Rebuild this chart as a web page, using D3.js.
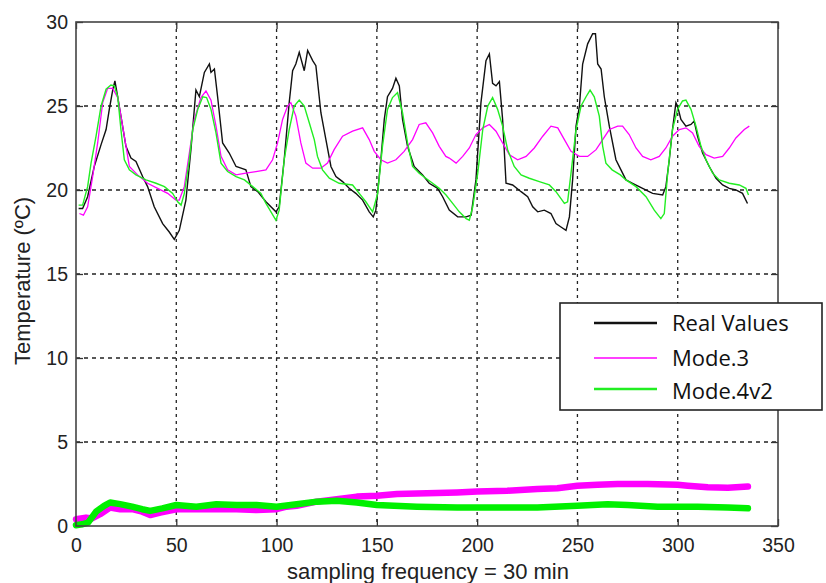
<!DOCTYPE html>
<html><head><meta charset="utf-8">
<script src="https://cdn.jsdelivr.net/npm/d3@7"></script>
<style>body{margin:0;background:#fff}svg{display:block}</style>
</head><body>
<svg id="c" width="826" height="583"></svg>
<script>
const xTicks = [0,50,100,150,200,250,300,350];
const yTicks = [0,5,10,15,20,25,30];
const seriesNames = ["Real Values","Mode.3","Mode.4v2"];
const realValues = [[1.3,18.9],[3.3,18.9],[5.8,19.6],[9.1,21.4],[12.5,22.7],[15,23.6],[16.6,24.8],[18.3,25.95],[19.4,26.5],[20.8,25.55],[22.4,24.4],[24.9,22.6],[27.4,21.9],[29.9,21.7],[33.2,20.8],[35.7,20.2],[39,19.0],[43.2,18.0],[46.5,17.5],[49,17.06],[51.5,17.6],[54.8,19.4],[57.3,22.4],[59.8,25.95],[61.5,25.55],[64,27.0],[66.5,27.5],[67.3,27.0],[69,27.2],[70.6,25.55],[73.1,22.8],[76.4,22.2],[79.8,21.4],[82.3,21.3],[84.7,21.2],[87.2,20.2],[90.6,19.9],[94.7,19.3],[99.7,18.7],[101.3,19.0],[103.8,21.8],[106.3,25.2],[108,27.1],[109.6,27.5],[111.3,28.2],[113.8,27.1],[115.5,28.3],[118,27.7],[119.6,27.4],[122.1,24.6],[124.6,23.0],[127.1,21.4],[129.6,20.8],[132.9,20.5],[136.2,20.1],[139.5,19.8],[142.9,19.4],[146.2,18.7],[148.2,18.4],[149.5,18.8],[152,21.8],[153.7,24.2],[155.3,25.55],[157.8,26.05],[159.5,26.65],[161.2,26.2],[162.8,24.2],[165.3,22.6],[168.6,21.4],[172.8,20.9],[176.1,20.4],[180.3,20.1],[182.8,19.6],[186.1,18.8],[190.3,18.4],[194.5,18.4],[197,18.5],[199.4,20.6],[201.9,25.2],[204.4,27.7],[206.1,28.1],[207.7,26.35],[209.4,26.2],[211.1,26.45],[212.7,24.2],[214.4,20.4],[217.7,20.3],[221.9,19.9],[225.2,19.6],[227.7,19.0],[230.2,18.7],[233.5,18.8],[236.8,18.6],[239.3,18.0],[241.8,17.8],[244.3,17.6],[246,18.4],[247.6,20.6],[249.3,23.8],[251,25.0],[252.6,27.5],[255.1,28.7],[257.6,29.3],[259,29.3],[260.1,27.5],[261.8,27.2],[263.4,25.55],[265.9,23.8],[269.2,21.8],[271.7,21.2],[274.2,20.6],[277.5,20.4],[282.5,20.1],[287.5,19.8],[292.5,19.7],[294.1,20.2],[295.8,21.8],[297.4,23.6],[299.1,25.2],[299.9,25.0],[301.6,24.2],[304.1,23.8],[306.6,23.9],[308.2,24.1],[309.9,23.2],[312.4,22.2],[315.7,21.4],[319.1,20.7],[322.4,20.3],[325.7,20.1],[329,20.0],[332.3,19.8],[334.8,19.2]];
const mode3 = [[1.7,18.6],[3.7,18.5],[5.8,19.0],[8.3,20.8],[10.8,22.8],[13.3,25.2],[15.8,26.05],[18.3,26.05],[20.8,25.5],[22.4,24.4],[24.1,23.2],[26.6,21.4],[30.7,20.9],[35.7,20.4],[40.7,20.1],[45.7,19.8],[49.8,19.4],[51.5,19.4],[54,20.2],[56.5,22.2],[59,24.2],[62.3,25.5],[64.8,25.9],[67.3,25.35],[69.8,23.8],[72.3,22.0],[75.6,21.2],[79.8,20.9],[84.7,21.0],[89.7,21.1],[94.7,21.2],[98,21.8],[100.5,22.8],[103,24.2],[105.5,25.0],[107.1,25.2],[109.6,24.4],[112.1,22.8],[114.6,21.6],[118,21.3],[122.1,21.3],[125.4,21.6],[128.7,22.4],[132.9,23.2],[137.9,23.5],[142.9,23.7],[146.2,23.0],[148.7,22.3],[152,21.8],[155.3,21.6],[159.5,21.8],[163.6,22.3],[167.8,23.0],[171.1,23.9],[174.4,24.0],[177.8,23.4],[181.1,22.6],[184.4,22.0],[186.1,21.9],[189.5,21.6],[192.8,22.0],[196.1,22.5],[199.4,23.3],[202.8,23.7],[206.1,23.9],[209.4,23.5],[212.7,22.8],[216.1,22.1],[220.2,21.8],[224.4,22.0],[228.5,22.5],[232.7,23.2],[236.8,23.8],[240.2,23.7],[243.5,23.0],[246.8,22.3],[251,22.0],[255.1,22.0],[259.3,22.4],[262.6,23.0],[265.9,23.6],[270.1,23.8],[272.5,23.8],[275.8,23.3],[279.2,22.5],[282.5,22.0],[286.6,21.8],[290.8,22.0],[294.1,22.5],[297.4,23.2],[300.8,23.6],[304.1,23.7],[307.4,23.4],[310.7,22.6],[314.1,22.1],[318.2,21.9],[322.4,22.0],[325.7,22.5],[329,23.1],[333.2,23.6],[335.7,23.8]];
const mode4v2 = [[1.3,19.1],[3.3,19.1],[5.8,20.2],[7.5,21.6],[10,23.2],[12.5,25.0],[15,26.0],[17.4,26.25],[19.1,26.2],[20.8,25.55],[22.4,23.6],[24.1,21.8],[26.6,21.2],[29.9,20.9],[34.9,20.6],[39.9,20.4],[44.1,20.2],[48.2,19.8],[50.7,19.3],[52.4,19.1],[54,19.8],[56.5,21.8],[58.2,23.6],[60.7,24.8],[63.2,25.55],[65.1,25.5],[67.3,24.8],[69.8,23.4],[72.3,21.6],[75.6,21.1],[79.8,20.8],[84,20.6],[88.1,20.2],[92.2,19.8],[94.7,19.2],[99.7,18.2],[101.3,18.8],[103.8,21.8],[106.3,23.6],[108.8,25.0],[111.3,25.35],[113.8,25.0],[116.3,24.0],[118.8,23.0],[120.4,22.0],[122.9,21.2],[126.3,20.7],[131.2,20.4],[137.9,20.3],[141.2,19.8],[144.5,19.3],[147.9,18.7],[150.4,19.8],[152.8,22.6],[155.3,24.8],[157.8,25.5],[160.3,25.8],[162.8,24.6],[165.3,22.8],[167.8,21.4],[171.1,21.0],[174.4,20.7],[177.8,20.4],[181.1,20.1],[184.5,19.7],[187.8,19.2],[191.1,18.7],[194.5,18.3],[196.1,18.2],[197.8,19.0],[200.3,21.0],[202.8,23.6],[205.3,25.0],[207.7,25.5],[210.2,24.8],[212.7,23.8],[215.2,22.4],[218.5,21.4],[221.9,20.9],[226,20.7],[231,20.5],[236,20.3],[239.3,19.9],[243.5,19.2],[245.1,19.3],[246.8,21.0],[249.3,23.6],[251.8,25.0],[254.3,25.55],[256.3,25.95],[258.4,25.55],[260.9,24.4],[262.6,22.6],[264.2,21.6],[267.3,21.2],[271.4,20.9],[274.2,20.6],[279.2,20.2],[284.2,19.6],[288.3,18.8],[291.6,18.3],[293.3,18.6],[295,21.0],[297.4,23.6],[299.9,24.8],[302.4,25.3],[304.1,25.35],[306.6,24.8],[309.1,23.8],[311.6,22.6],[314.1,21.8],[317.4,21.0],[320.7,20.6],[325.7,20.4],[330.7,20.3],[334,20.1],[335.3,19.7]];
const mode3Error = [[0,0.4],[5,0.5],[8,0.45],[12,0.7],[17,1.1],[22,1.0],[28,1.0],[33,0.85],[37,0.65],[42,0.8],[50,1.0],[60,1.0],[70,1.0],[80,1.0],[90,0.95],[100,1.0],[105,1.15],[110,1.2],[120,1.45],[130,1.6],[140,1.75],[150,1.8],[160,1.9],[175,1.95],[190,2.0],[200,2.05],[215,2.1],[230,2.2],[240,2.25],[250,2.4],[260,2.45],[270,2.5],[285,2.5],[300,2.45],[305,2.4],[315,2.3],[325,2.28],[335,2.35]];
const mode4v2Error = [[0,0.05],[3,0.1],[6,0.2],[10,0.85],[14,1.2],[17,1.4],[22,1.3],[28,1.15],[33,1.0],[37,0.9],[43,1.05],[50,1.25],[60,1.15],[70,1.3],[80,1.25],[90,1.25],[100,1.15],[110,1.3],[120,1.45],[130,1.5],[140,1.4],[150,1.25],[170,1.15],[190,1.1],[210,1.1],[230,1.1],[250,1.2],[265,1.3],[275,1.25],[290,1.15],[310,1.15],[325,1.1],[335,1.05]];

const svg = d3.select("#c");
const L=76, R=778, T=22, B=526;
const x = d3.scaleLinear().domain([0,350]).range([L,R]);
const y = d3.scaleLinear().domain([0,30]).range([B,T]);
const font = "'Liberation Sans', Arial, sans-serif";

// grid
const g = svg.append("g");
g.selectAll(".vg").data(xTicks.slice(1,-1)).enter().append("line")
  .attr("x1",d=>x(d)).attr("x2",d=>x(d)).attr("y1",T).attr("y2",B)
  .attr("stroke","#222").attr("stroke-width",1.3).attr("stroke-dasharray","3,4");
g.selectAll(".hg").data(yTicks.slice(1,-1)).enter().append("line")
  .attr("y1",d=>y(d)).attr("y2",d=>y(d)).attr("x1",L).attr("x2",R)
  .attr("stroke","#222").attr("stroke-width",1.3).attr("stroke-dasharray","4,4");

// axes via d3
const xAxis = d3.axisBottom(x).tickValues(xTicks).tickSize(-7).tickPadding(12);
const yAxis = d3.axisLeft(y).tickValues(yTicks).tickSize(-7).tickPadding(8);
svg.append("g").attr("transform",`translate(0,${B})`).call(xAxis);
svg.append("g").attr("transform",`translate(${L},0)`).call(yAxis);
svg.append("g").attr("transform",`translate(0,${T})`).call(d3.axisTop(x).tickValues(xTicks).tickSize(-7).tickFormat(""));
svg.append("g").attr("transform",`translate(${R},0)`).call(d3.axisRight(y).tickValues(yTicks).tickSize(-7).tickFormat(""));
svg.selectAll(".domain").remove();
svg.selectAll(".tick line").attr("stroke","#333").attr("stroke-width",1.3);
svg.selectAll(".tick text").attr("font-family",font).attr("font-size",19.5).attr("fill","#222");

const line = d3.line().x(d=>x(d[0])).y(d=>y(d[1]));
const plot = svg.append("g");
plot.append("path").datum(mode3Error).attr("d",line).attr("fill","none").attr("stroke","#ff00ff").attr("stroke-width",6.5).attr("stroke-linejoin","round").attr("stroke-linecap","round");
plot.append("path").datum(mode4v2Error).attr("d",line).attr("fill","none").attr("stroke","#00f000").attr("stroke-width",6.5).attr("stroke-linejoin","round").attr("stroke-linecap","round");
plot.append("path").datum(realValues).attr("d",line).attr("fill","none").attr("stroke","#111").attr("stroke-width",1.4);
plot.append("path").datum(mode3).attr("d",line).attr("fill","none").attr("stroke","#ff00ff").attr("stroke-width",1.3);
plot.append("path").datum(mode4v2).attr("d",line).attr("fill","none").attr("stroke","#22ee22").attr("stroke-width",1.4);

// frame
svg.append("rect").attr("x",L).attr("y",T).attr("width",R-L).attr("height",B-T)
  .attr("fill","none").attr("stroke","#444").attr("stroke-width",1.6);

// axis labels
svg.append("text").attr("x",428).attr("y",579).attr("text-anchor","middle")
  .attr("font-family",font).attr("font-size",22).attr("fill","#222").text("sampling frequency = 30 min");
svg.append("text").attr("transform","translate(30,281) rotate(-90)").attr("text-anchor","middle")
  .attr("font-family",font).attr("font-size",22).attr("fill","#222").text("Temperature (ºC)");

// legend
const lg = svg.append("g");
lg.append("rect").attr("x",560).attr("y",303).attr("width",262).attr("height",107)
  .attr("fill","#fff").attr("stroke","#222").attr("stroke-width",1.6);
const legColors = ["#111","#ff00ff","#22ee22"];
const legWidths = [2.5,1.5,2.5];
const legLineY = [323,358,389];
const legTextY = [331,366,399];
seriesNames.forEach((n,i)=>{
  lg.append("line").attr("x1",594).attr("x2",657).attr("y1",legLineY[i]).attr("y2",legLineY[i])
    .attr("stroke",legColors[i]).attr("stroke-width",legWidths[i]);
  lg.append("text").attr("x",672).attr("y",legTextY[i]).attr("font-family","'Open Sans', Lato, sans-serif")
    .attr("font-size",22).attr("fill","#111").text(n);
});
</script>
</body></html>
